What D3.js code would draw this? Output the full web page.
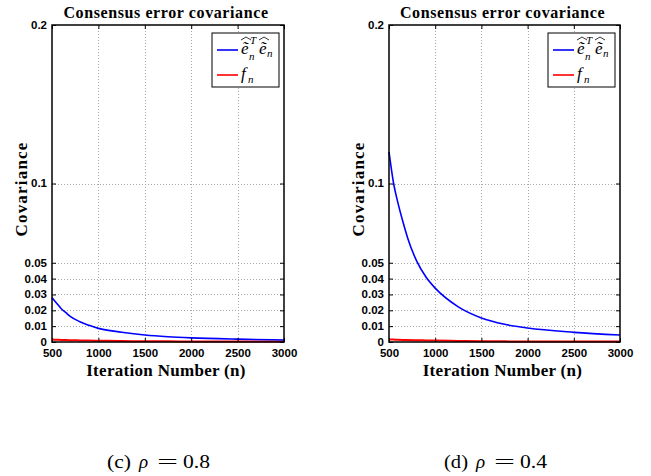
<!DOCTYPE html>
<html>
<head>
<meta charset="utf-8">
<script src="https://cdn.jsdelivr.net/npm/d3@7"></script>
<style>
  html, body { margin: 0; padding: 0; background: #fff; }
  svg { display: block; }
</style>
</head>
<body>
<svg id="fig" width="651" height="476"></svg>
<script>
// Iteration numbers at which the covariances are sampled
const iterations = [500, 550, 600, 650, 700, 800, 900, 1000, 1250, 1500, 1750, 2000, 2500, 3000];

// rho = 0.8 : consensus error covariance and its bound f_n
const errCovRho08 = [0.028, 0.0245, 0.021, 0.0185, 0.016, 0.0128, 0.0105, 0.0086, 0.0062, 0.0044, 0.0033, 0.0026, 0.0018, 0.0013];
const boundRho08  = [0.0015, 0.0014, 0.0013, 0.0012, 0.0011, 0.001, 0.0009, 0.0008, 0.0006, 0.0005, 0.0004, 0.00035, 0.0003, 0.00025];

// rho = 0.4
const errCovRho04 = [0.120, 0.100, 0.087, 0.076, 0.066, 0.051, 0.041, 0.034, 0.0222, 0.0152, 0.0112, 0.0088, 0.0061, 0.0044];
const boundRho04  = [0.0016, 0.0015, 0.0014, 0.0013, 0.0012, 0.0011, 0.001, 0.0009, 0.0007, 0.0005, 0.0004, 0.00035, 0.0003, 0.00025];

const xTicks = [500, 1000, 1500, 2000, 2500, 3000];
const yTicks = [0, 0.01, 0.02, 0.03, 0.04, 0.05, 0.1, 0.2];
const yTickLabels = ["0", "0.01", "0.02", "0.03", "0.04", "0.05", "0.1", "0.2"];

const titleText = "Consensus error covariance";
const xLabelText = "Iteration Number (n)";
const yLabelText = "Covariance";

const panels = [
  { left: 52,  right: 284, err: errCovRho08, bound: boundRho08, tag: "(c)", rho: "0.8" },
  { left: 389, right: 620, err: errCovRho04, bound: boundRho04, tag: "(d)", rho: "0.4" }
];

const plotTop = 25, plotBottom = 342;
const svg = d3.select("#fig");
const serif = "'Liberation Serif', 'Times New Roman', serif";
const sans = "'Liberation Sans', Arial, Helvetica, sans-serif";

panels.forEach(p => {
  const x = d3.scaleLinear().domain([500, 3000]).range([p.left, p.right]);
  const y = d3.scaleLinear().domain([0, 0.2]).range([plotBottom, plotTop]);
  const g = svg.append("g");
  const cx = (p.left + p.right) / 2;

  // dotted grid
  const grid = g.append("g").attr("stroke", "#a8a8a8").attr("stroke-width", 1)
    .attr("stroke-dasharray", "1,2");
  xTicks.slice(1, -1).forEach(t => {
    grid.append("line").attr("x1", Math.round(x(t)) + 0.5).attr("x2", Math.round(x(t)) + 0.5)
      .attr("y1", plotTop).attr("y2", plotBottom);
  });
  yTicks.slice(1, -1).forEach(t => {
    grid.append("line").attr("x1", p.left).attr("x2", p.right)
      .attr("y1", Math.round(y(t)) + 0.5).attr("y2", Math.round(y(t)) + 0.5);
  });

  // curves
  const line = d3.line().x((d, i) => x(iterations[i])).y(d => y(d)).curve(d3.curveMonotoneX);
  g.append("path").datum(p.bound).attr("d", line)
    .attr("fill", "none").attr("stroke", "#ff0000").attr("stroke-width", 2);
  g.append("path").datum(p.err).attr("d", line)
    .attr("fill", "none").attr("stroke", "#0000ff").attr("stroke-width", 1.6);

  // axes: ticks pointing inward, labels outside
  const xAxisB = d3.axisBottom(x).tickValues(xTicks).tickSize(-4).tickPadding(7)
    .tickFormat(d3.format("d"));
  const xAxisT = d3.axisTop(x).tickValues(xTicks).tickSize(-4).tickFormat("");
  const yAxisL = d3.axisLeft(y).tickValues(yTicks).tickSize(-4).tickPadding(5)
    .tickFormat((d, i) => yTickLabels[i]);
  const yAxisR = d3.axisRight(y).tickValues(yTicks).tickSize(-4).tickFormat("");

  const styleAxis = sel => {
    sel.select(".domain").remove();
    sel.selectAll(".tick line").attr("stroke", "#000").attr("stroke-width", 1);
    sel.selectAll("text").attr("font-family", sans).attr("font-weight", "bold")
      .attr("font-size", 11.5).attr("fill", "#000");
  };
  g.append("g").attr("transform", `translate(0,${plotBottom})`).call(xAxisB).call(styleAxis)
    .selectAll("text").attr("dy", "0.71em");
  g.append("g").attr("transform", `translate(0,${plotTop})`).call(xAxisT).call(styleAxis);
  g.append("g").attr("transform", `translate(${p.left},0)`).call(yAxisL).call(styleAxis)
    .selectAll("text").attr("dy", "0.3em");
  g.append("g").attr("transform", `translate(${p.right},0)`).call(yAxisR).call(styleAxis);

  // frame
  g.append("rect").attr("x", p.left).attr("y", plotTop)
    .attr("width", p.right - p.left).attr("height", plotBottom - plotTop)
    .attr("fill", "none").attr("stroke", "#000").attr("stroke-width", 1.5);

  // title and axis labels
  g.append("text").attr("x", cx - 2).attr("y", 18).attr("text-anchor", "middle")
    .attr("font-family", serif).attr("font-weight", "bold").attr("font-size", 16)
    .attr("letter-spacing", 0.6)
    .text(titleText);
  g.append("text").attr("x", cx - 2).attr("y", 375.5).attr("text-anchor", "middle")
    .attr("font-family", serif).attr("font-weight", "bold").attr("font-size", 17)
    .attr("letter-spacing", 0.3)
    .text(xLabelText);
  g.append("text").attr("transform", `translate(${p.left - 25},189) rotate(-90)`)
    .attr("text-anchor", "middle")
    .attr("font-family", serif).attr("font-weight", "bold").attr("font-size", 17)
    .attr("letter-spacing", 1.2)
    .text(yLabelText);

  // legend
  const lw = 67, lh = 54;
  const lx = p.right - 5 - lw, ly = plotTop + 8;
  const lg = g.append("g").attr("transform", `translate(${lx},${ly})`);
  lg.append("rect").attr("width", lw).attr("height", lh)
    .attr("fill", "#fff").attr("stroke", "#000").attr("stroke-width", 1);
  lg.append("line").attr("x1", 5).attr("x2", 26).attr("y1", 17).attr("y2", 17)
    .attr("stroke", "#0000ff").attr("stroke-width", 1.6);
  lg.append("line").attr("x1", 5).attr("x2", 26).attr("y1", 42).attr("y2", 42)
    .attr("stroke", "#ff0000").attr("stroke-width", 1.6);

  const mathText = (parent, tx, ty, str, size) =>
    parent.append("text").attr("x", tx).attr("y", ty)
      .attr("font-family", serif).attr("font-style", "italic").attr("font-size", size)
      .attr("fill", "#000").text(str);
  const hat = (hx, hy) => lg.append("path")
    .attr("d", `M${hx},${hy + 3} L${hx + 5},${hy} L${hx + 10},${hy + 3}`)
    .attr("fill", "none").attr("stroke", "#000").attr("stroke-width", 0.8);

  // widehat(tilde e)_n^T widehat(tilde e)_n
  mathText(lg, 29, 21, "\u1EBD", 17);
  hat(29, 4);
  mathText(lg, 37, 27, "n", 11);
  mathText(lg, 38, 11, "T", 11);
  mathText(lg, 47, 21, "\u1EBD", 17);
  hat(47, 4);
  mathText(lg, 55, 24, "n", 11);

  // f_n
  mathText(lg, 29, 46, "f", 17);
  mathText(lg, 36, 50, "n", 11);

  // sub-figure caption, laid out piece by piece like typeset math
  const capX = p.left + 55, capY = 468;
  const cap = svg.append("g").attr("font-family", serif).attr("font-size", 19).attr("fill", "#000");
  cap.append("text").attr("x", capX).attr("y", capY)
    .attr("textLength", 24).attr("lengthAdjust", "spacingAndGlyphs").text(p.tag);
  cap.append("text").attr("x", capX + 32).attr("y", capY).attr("font-style", "italic").text("\u03C1");
  cap.append("text").attr("x", capX + 50).attr("y", capY)
    .attr("textLength", 21).attr("lengthAdjust", "spacingAndGlyphs").text("=");
  cap.append("text").attr("x", capX + 76).attr("y", capY)
    .attr("textLength", 27).attr("lengthAdjust", "spacingAndGlyphs").text(p.rho);
});
</script>
</body>
</html>
